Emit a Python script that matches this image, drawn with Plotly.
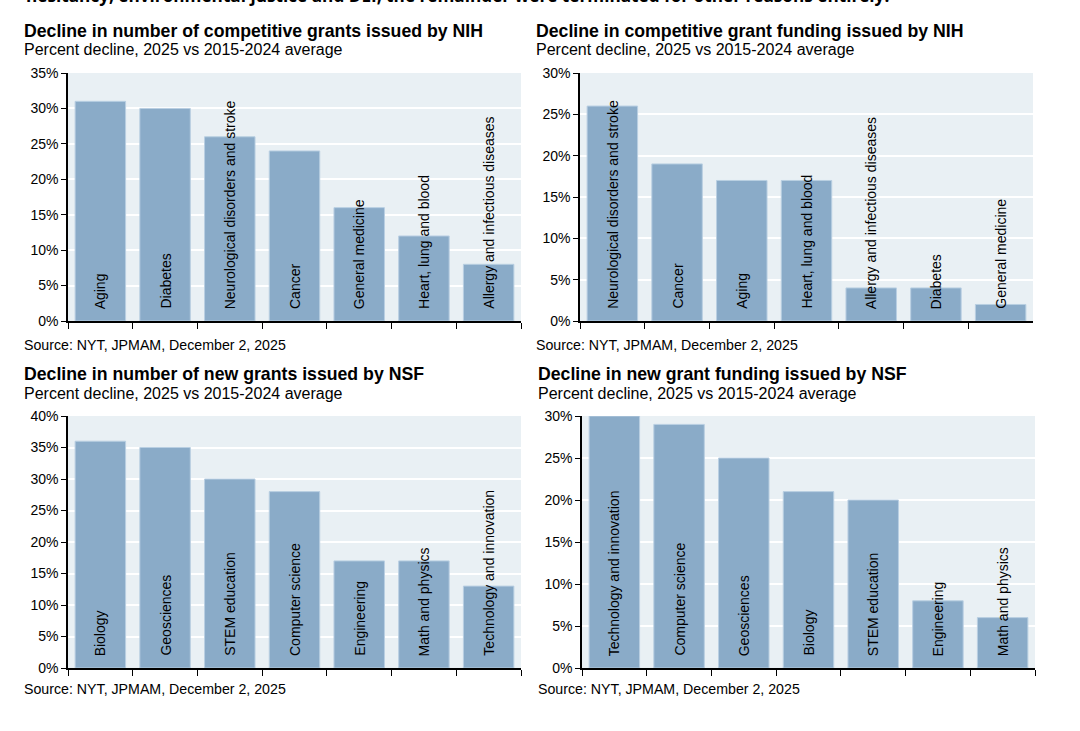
import plotly.graph_objects as go

# ---------------- data ----------------
nih_count_cats = ["Aging", "Diabetes", "Neurological disorders and stroke", "Cancer",
                  "General medicine", "Heart, lung and blood", "Allergy and infectious diseases"]
nih_count_vals = [31, 30, 26, 24, 16, 12, 8]

nih_fund_cats = ["Neurological disorders and stroke", "Cancer", "Aging", "Heart, lung and blood",
                 "Allergy and infectious diseases", "Diabetes", "General medicine"]
nih_fund_vals = [26, 19, 17, 17, 4, 4, 2]

nsf_count_cats = ["Biology", "Geosciences", "STEM education", "Computer science",
                  "Engineering", "Math and physics", "Technology and innovation"]
nsf_count_vals = [36, 35, 30, 28, 17, 17, 13]

nsf_fund_cats = ["Technology and innovation", "Computer science", "Geosciences", "Biology",
                 "STEM education", "Engineering", "Math and physics"]
nsf_fund_vals = [30, 29, 25, 21, 20, 8, 6]

titles = ["Decline in number of competitive grants issued by NIH",
          "Decline in competitive grant funding issued by NIH",
          "Decline in number of new grants issued by NSF",
          "Decline in new grant funding issued by NSF"]
subtitle = "Percent decline, 2025 vs 2015-2024 average"
source = "Source: NYT, JPMAM, December 2, 2025"
top_text = "hesitancy, environmental justice and DEI; the remainder were terminated for other reasons entirely."
y_max = [35, 30, 40, 30]

# ---------------- layout helpers ----------------
W, H = 1080, 731
def px_x(p): return p / W
def px_y(p): return 1 - p / H

# plot-area pixel boxes: (left, right, top, bottom)
boxes = [(68, 521, 73, 321), (580, 1033, 73, 321), (68, 521, 416, 668), (582, 1035, 416, 668)]
# (title x, title y, subtitle y, source y)
title_pos = [(22, 31, 50, 345), (534, 31, 50, 345), (22, 374, 393, 689), (536, 374, 393, 689)]

BAR = "#8aabc8"
BAR_EDGE = "#b9cfe2"
BG = "#e9f0f4"
FONT = "Liberation Sans, Arial, sans-serif"

panels = [(nih_count_cats, nih_count_vals), (nih_fund_cats, nih_fund_vals),
          (nsf_count_cats, nsf_count_vals), (nsf_fund_cats, nsf_fund_vals)]

fig = go.Figure()
annotations = []
layout_axes = {}

for i, (cats, vals) in enumerate(panels):
    n = i + 1
    xa = "x" if n == 1 else f"x{n}"
    ya = "y" if n == 1 else f"y{n}"
    fig.add_trace(go.Bar(x=cats, y=vals, xaxis=xa, yaxis=ya,
                         marker=dict(color=BAR, line=dict(color=BAR_EDGE, width=1)),
                         showlegend=False, hoverinfo="x+y"))
    l, r, t, b = boxes[i]
    xkey = "xaxis" if n == 1 else f"xaxis{n}"
    ykey = "yaxis" if n == 1 else f"yaxis{n}"
    layout_axes[xkey] = dict(domain=[px_x(l), px_x(r)], anchor=ya, type="category",
                             range=[-0.5, len(cats) - 0.5], showticklabels=False,
                             ticks="outside", tickson="boundaries", ticklen=6,
                             tickcolor="black", tickwidth=1.2, automargin=False,
                             showline=True, linecolor="black", linewidth=1.5,
                             showgrid=False, fixedrange=True)
    layout_axes[ykey] = dict(domain=[px_y(b), px_y(t)], anchor=xa,
                             range=[0, y_max[i]], dtick=5, ticksuffix="%",
                             showline=True, linecolor="black", linewidth=1.5,
                             ticks="outside", ticklen=5, tickcolor="black", tickwidth=1.2,
                             gridcolor="white", gridwidth=1.5, zeroline=False,
                             automargin=False,
                             tickfont=dict(family=FONT, size=14, color="black"),
                             fixedrange=True)
    # rotated category labels inside bars
    for c in cats:
        annotations.append(dict(x=c, y=0, xref=xa, yref=ya, text=c, textangle=-90,
                                showarrow=False, xanchor="center", yanchor="bottom",
                                yshift=10, font=dict(family=FONT, size=14, color="black")))
    tx, ty, sy, soy = title_pos[i]
    annotations.append(dict(x=px_x(tx), y=px_y(ty), xref="paper", yref="paper",
                            text=f"<b>{titles[i]}</b>", showarrow=False,
                            xanchor="left", yanchor="middle",
                            font=dict(family=FONT, size=17.7, color="black")))
    annotations.append(dict(x=px_x(tx), y=px_y(sy), xref="paper", yref="paper",
                            text=subtitle, showarrow=False, xanchor="left", yanchor="middle",
                            font=dict(family=FONT, size=16, color="black")))
    annotations.append(dict(x=px_x(tx), y=px_y(soy), xref="paper", yref="paper",
                            text=source, showarrow=False, xanchor="left", yanchor="middle",
                            font=dict(family=FONT, size=14.2, color="black")))

# clipped line of body text at the very top (only its lower part shows, as in the reference)
annotations.append(dict(x=px_x(24), y=px_y(9), xref="paper", yref="paper",
                        text=f"<b>{top_text}</b>", showarrow=False,
                        xanchor="left", yanchor="bottom",
                        font=dict(family="Open Sans, sans-serif", size=17.2, color="black")))

fig.update_layout(width=W, height=H,
                  margin=dict(l=0, r=0, t=0, b=0, pad=0, autoexpand=False),
                  paper_bgcolor="white", plot_bgcolor=BG, bargap=0.22,
                  annotations=annotations, **layout_axes)

fig.write_html("out.html", config={"displayModeBar": False},
               post_script="document.body.style.margin='0';document.body.style.overflow='hidden';")
